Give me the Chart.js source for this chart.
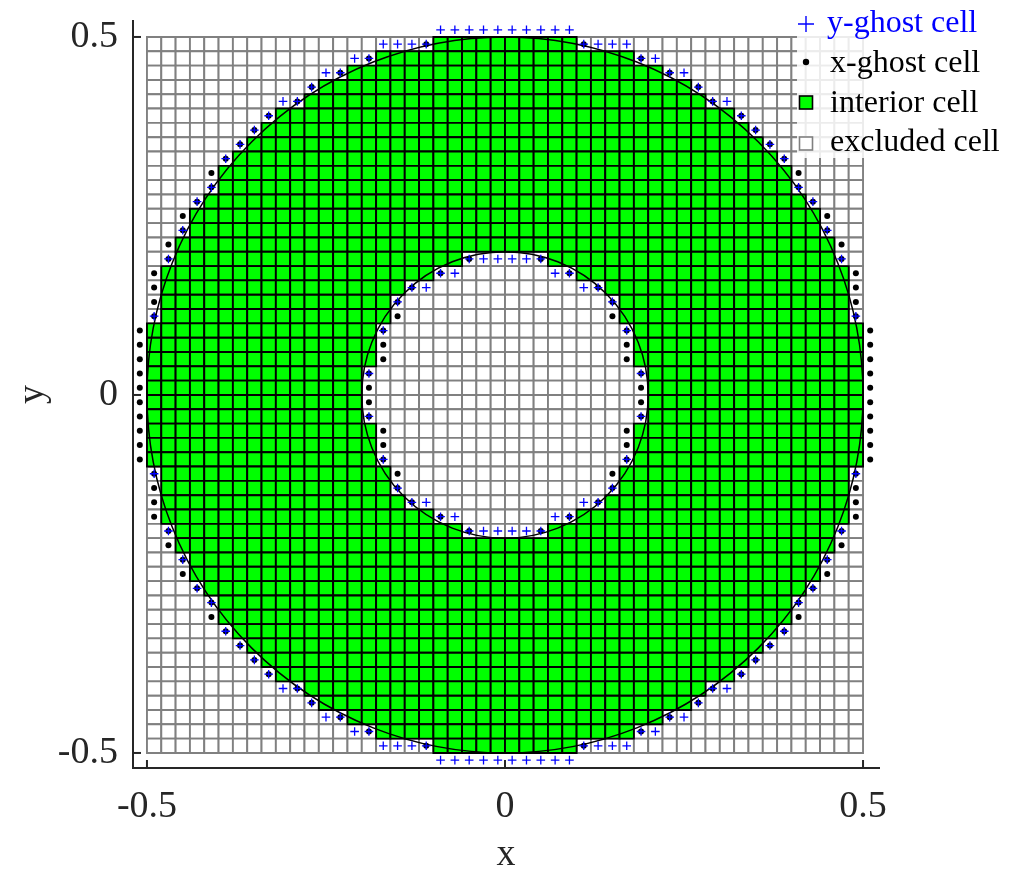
<!DOCTYPE html>
<html lang="en">
<head>
    <meta charset="UTF-8">
    <title>annulus cells</title>
    <script src="https://cdn.jsdelivr.net/npm/chart.js@4/dist/chart.umd.min.js"></script>
    <style>
        html, body { margin: 0; padding: 0; background: #fff; }
    </style>
</head>
<body>
    <canvas id="cells" width="1019" height="871"></canvas>
    <script>
        // cell centres (spacing 0.02)
        const xCenters = [-0.49, -0.47, -0.45, -0.43, -0.41, -0.39, -0.37, -0.35, -0.33, -0.31,
                          -0.29, -0.27, -0.25, -0.23, -0.21, -0.19, -0.17, -0.15, -0.13, -0.11,
                          -0.09, -0.07, -0.05, -0.03, -0.01, 0.01, 0.03, 0.05, 0.07, 0.09,
                          0.11, 0.13, 0.15, 0.17, 0.19, 0.21, 0.23, 0.25, 0.27, 0.29,
                          0.31, 0.33, 0.35, 0.37, 0.39, 0.41, 0.43, 0.45, 0.47, 0.49];
        const yCenters = [0.49, 0.47, 0.45, 0.43, 0.41, 0.39, 0.37, 0.35, 0.33, 0.31,
                          0.29, 0.27, 0.25, 0.23, 0.21, 0.19, 0.17, 0.15, 0.13, 0.11,
                          0.09, 0.07, 0.05, 0.03, 0.01, -0.01, -0.03, -0.05, -0.07, -0.09,
                          -0.11, -0.13, -0.15, -0.17, -0.19, -0.21, -0.23, -0.25, -0.27, -0.29,
                          -0.31, -0.33, -0.35, -0.37, -0.39, -0.41, -0.43, -0.45, -0.47, -0.49];
        // ghost cells just outside the grid
        const ghostX = [-0.51, 0.51];
        const ghostY = [0.51, -0.51];

        // per row, top to bottom: |x| where the green band ends
        const outerEdge = [0.10, 0.18, 0.22, 0.26, 0.28, 0.32, 0.34, 0.36, 0.38, 0.40,
                           0.40, 0.42, 0.44, 0.44, 0.46, 0.46, 0.48, 0.48, 0.48, 0.48,
                           0.50, 0.50, 0.50, 0.50, 0.50, 0.50, 0.50, 0.50, 0.50, 0.50,
                           0.48, 0.48, 0.48, 0.48, 0.46, 0.46, 0.44, 0.44, 0.42, 0.40,
                           0.40, 0.38, 0.36, 0.34, 0.32, 0.28, 0.26, 0.22, 0.18, 0.10];
        // per row: half width of the excluded hole (0 = no hole)
        const holeEdge = [0, 0, 0, 0, 0, 0, 0, 0, 0, 0,
                          0, 0, 0, 0, 0, 0.06, 0.10, 0.14, 0.16, 0.16,
                          0.18, 0.18, 0.18, 0.20, 0.20, 0.20, 0.20, 0.18, 0.18, 0.18,
                          0.16, 0.16, 0.14, 0.10, 0.06, 0, 0, 0, 0, 0,
                          0, 0, 0, 0, 0, 0, 0, 0, 0, 0];

        const outerRadius = 0.5;
        const innerRadius = 0.2;
        const xTicks = [-0.5, 0, 0.5];
        const yTicks = [-0.5, 0, 0.5];
        const seriesLabels = ['y-ghost cell', 'x-ghost cell', 'interior cell', 'excluded cell'];

        const serif = 'Liberation Serif';
        const axisColor = '#262626';

        function isInterior(i, j) {
            if (i < 0 || j < 0 || i >= xCenters.length || j >= yCenters.length) return false;
            const ax = Math.abs(xCenters[i]);
            return ax < outerEdge[j] && ax > holeEdge[j];
        }
        function colX(i) { return i < 0 ? ghostX[0] : (i >= xCenters.length ? ghostX[1] : xCenters[i]); }
        function rowY(j) { return j < 0 ? ghostY[0] : (j >= yCenters.length ? ghostY[1] : yCenters[j]); }

        const interior = [], excluded = [];
        const xGhost = new Map(), yGhost = new Map();
        for (let j = 0; j < yCenters.length; j++) {
            for (let i = 0; i < xCenters.length; i++) {
                if (!isInterior(i, j)) {
                    excluded.push({x: xCenters[i], y: yCenters[j]});
                    continue;
                }
                interior.push({x: xCenters[i], y: yCenters[j]});
                [[i - 1, j], [i + 1, j]].forEach(([a, b]) => {
                    if (!isInterior(a, b)) xGhost.set(a + ',' + b, {x: colX(a), y: rowY(b)});
                });
                [[i, j - 1], [i, j + 1]].forEach(([a, b]) => {
                    if (!isInterior(a, b)) yGhost.set(a + ',' + b, {x: colX(a), y: rowY(b)});
                });
            }
        }

        // rect point side = one cell in pixels
        function cellRadius(c) {
            const s = c.chart.scales.x;
            return Math.abs(s.getPixelForValue(xCenters[1]) - s.getPixelForValue(xCenters[0])) / Math.SQRT2;
        }

        const circlesPlugin = {
            id: 'circles',
            afterDatasetDraw(chart, args) {
                if (args.index !== 2) return;
                const {ctx, scales: {x, y}} = chart;
                const cx = x.getPixelForValue(0), cy = y.getPixelForValue(0);
                ctx.save();
                ctx.strokeStyle = '#000';
                ctx.lineWidth = 1.5;
                [outerRadius, innerRadius].forEach(r => {
                    ctx.beginPath();
                    ctx.arc(cx, cy, x.getPixelForValue(r) - cx, 0, Math.PI * 2);
                    ctx.stroke();
                });
                ctx.restore();
            }
        };

        // inward tick marks + legend box
        const decorPlugin = {
            id: 'decor',
            afterDraw(chart) {
                const {ctx, chartArea: area, scales: {x, y}} = chart;
                ctx.save();
                ctx.strokeStyle = axisColor;
                ctx.lineWidth = 2;
                xTicks.forEach(v => {
                    const px = x.getPixelForValue(v);
                    ctx.beginPath(); ctx.moveTo(px, area.bottom); ctx.lineTo(px, area.bottom - 8); ctx.stroke();
                });
                yTicks.forEach(v => {
                    const py = y.getPixelForValue(v);
                    ctx.beginPath(); ctx.moveTo(area.left, py); ctx.lineTo(area.left + 8, py); ctx.stroke();
                });

                ctx.fillStyle = 'rgba(255,255,255,0.85)';
                ctx.fillRect(797, 3, 215, 155);

                const ds = chart.data.datasets;
                const mx = 806;
                const markY = [24, 62, 102.5, 143.5];
                const baseY = [32, 72, 111.5, 151];
                ctx.font = '32px "' + serif + '"';
                ctx.textBaseline = 'alphabetic';
                ctx.textAlign = 'left';

                // + marker
                ctx.strokeStyle = ds[0].borderColor;
                ctx.lineWidth = 1.4;
                ctx.beginPath();
                ctx.moveTo(mx - 8, markY[0]); ctx.lineTo(mx + 8, markY[0]);
                ctx.moveTo(mx, markY[0] - 8); ctx.lineTo(mx, markY[0] + 8);
                ctx.stroke();
                ctx.fillStyle = ds[0].borderColor;
                ctx.fillText(ds[0].label, 827, baseY[0]);

                // dot
                ctx.fillStyle = ds[1].backgroundColor;
                ctx.beginPath(); ctx.arc(mx, markY[1], 3.2, 0, Math.PI * 2); ctx.fill();

                // squares
                [2, 3].forEach(k => {
                    ctx.fillStyle = ds[k].backgroundColor;
                    ctx.strokeStyle = ds[k].borderColor;
                    ctx.lineWidth = 1.6;
                    ctx.fillRect(mx - 6.5, markY[k] - 6.5, 13, 13);
                    ctx.strokeRect(mx - 6.5, markY[k] - 6.5, 13, 13);
                });

                ctx.fillStyle = '#000';
                [1, 2, 3].forEach(k => ctx.fillText(ds[k].label, 830, baseY[k]));
                ctx.restore();
            }
        };

        const tickFont = {family: serif, size: 38};

        new Chart(document.getElementById('cells'), {
            type: 'scatter',
            data: {
                datasets: [
                    {label: seriesLabels[0], data: [...yGhost.values()], pointStyle: 'cross', pointRadius: 4.3,
                     borderColor: '#0000ff', backgroundColor: '#0000ff', borderWidth: 1.3},
                    {label: seriesLabels[1], data: [...xGhost.values()], pointStyle: 'circle', pointRadius: 3,
                     backgroundColor: '#000000', borderColor: '#000000', borderWidth: 0},
                    {label: seriesLabels[2], data: interior, pointStyle: 'rect', pointRadius: cellRadius,
                     backgroundColor: '#00ff00', borderColor: '#000000', borderWidth: 1.9},
                    {label: seriesLabels[3], data: excluded, pointStyle: 'rect', pointRadius: cellRadius,
                     backgroundColor: '#ffffff', borderColor: '#808080', borderWidth: 1.9}
                ]
            },
            options: {
                responsive: false,
                animation: false,
                devicePixelRatio: 1,
                events: [],
                layout: {padding: {top: 21, right: 140, bottom: 0, left: 0}},
                plugins: {legend: {display: false}, tooltip: {enabled: false}},
                scales: {
                    x: {
                        type: 'linear',
                        min: -0.5195,
                        max: 0.5223,
                        afterBuildTicks: s => { s.ticks = xTicks.map(v => ({value: v})); },
                        afterFit: s => { s.height = 103; s.paddingLeft = 0; s.paddingRight = 0; },
                        grid: {display: false, drawTicks: false},
                        border: {display: true, color: axisColor, width: 2},
                        ticks: {font: tickFont, color: axisColor, padding: 16, maxRotation: 0,
                                callback: v => String(v)},
                        title: {display: true, text: 'x', color: axisColor,
                                font: {family: serif, size: 38, lineHeight: 0.85}, padding: 0}
                    },
                    y: {
                        type: 'linear',
                        min: -0.521,
                        max: 0.5223,
                        afterBuildTicks: s => { s.ticks = yTicks.map(v => ({value: v})); },
                        afterFit: s => { s.width = 133; s.paddingTop = 0; s.paddingBottom = 0; },
                        grid: {display: false, drawTicks: false},
                        border: {display: true, color: axisColor, width: 2},
                        ticks: {font: tickFont, color: axisColor, padding: 15,
                                callback: v => String(v)},
                        title: {display: true, text: 'y', color: axisColor,
                                font: {family: serif, size: 38, lineHeight: 1}, padding: {top: 14, bottom: 0}}
                    }
                }
            },
            plugins: [circlesPlugin, decorPlugin]
        });
    </script>
</body>
</html>
